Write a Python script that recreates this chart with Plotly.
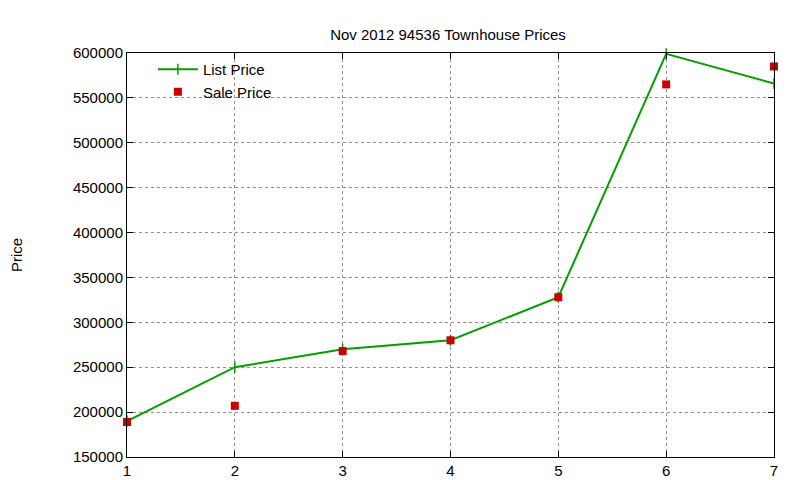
import plotly.graph_objects as go

x = [1, 2, 3, 4, 5, 6, 7]
list_price = [190000, 250000, 270000, 280000, 328000, 599000, 566000]
sale_price = [189000, 207000, 268000, 280000, 328000, 565000, 585000]
yticks = [150000, 200000, 250000, 300000, 350000, 400000, 450000, 500000, 550000, 600000]

fig = go.Figure()
fig.add_trace(go.Scatter(x=x, y=list_price, mode="lines+markers", name="List Price",
                         line=dict(color="#00a000", width=2),
                         marker=dict(symbol="line-ns", size=8, line=dict(color="#00a000", width=1.5)),
                         cliponaxis=False))
fig.add_trace(go.Scatter(x=x, y=sale_price, mode="markers", name="Sale Price",
                         marker=dict(symbol="square", size=8, color="#cc0000"),
                         cliponaxis=False))

axis_common = dict(showline=True, linecolor="black", linewidth=1, mirror="ticks",
                   ticks="inside", ticklen=6, tickcolor="black", automargin=False,
                   showgrid=True, gridcolor="#909090", griddash="dot", gridwidth=1,
                   zeroline=False, tickfont=dict(size=15, color="black"))
fig.update_xaxes(range=[1, 7], tickvals=x, **axis_common)
fig.update_yaxes(range=[150000, 600000], tickvals=yticks, tickformat="d",
                 title=dict(text="Price", font=dict(size=15, color="black"), standoff=50),
                 **axis_common)

fig.update_layout(
    width=800, height=480,
    font=dict(family="Liberation Sans, Arial, sans-serif", size=15, color="black"),
    title=dict(text="Nov 2012 94536 Townhouse Prices", x=0.55, xanchor="center",
               y=0.955, yref="container", automargin=False, font=dict(size=15)),
    plot_bgcolor="white", paper_bgcolor="white",
    margin=dict(l=119, r=34, t=45, b=31, autoexpand=False),
    legend=dict(x=0.04, y=1.0, xanchor="left", yanchor="top", bgcolor="rgba(0,0,0,0)",
                font=dict(size=15), tracegroupgap=0, itemwidth=40),
)
fig.write_html("out.html")
